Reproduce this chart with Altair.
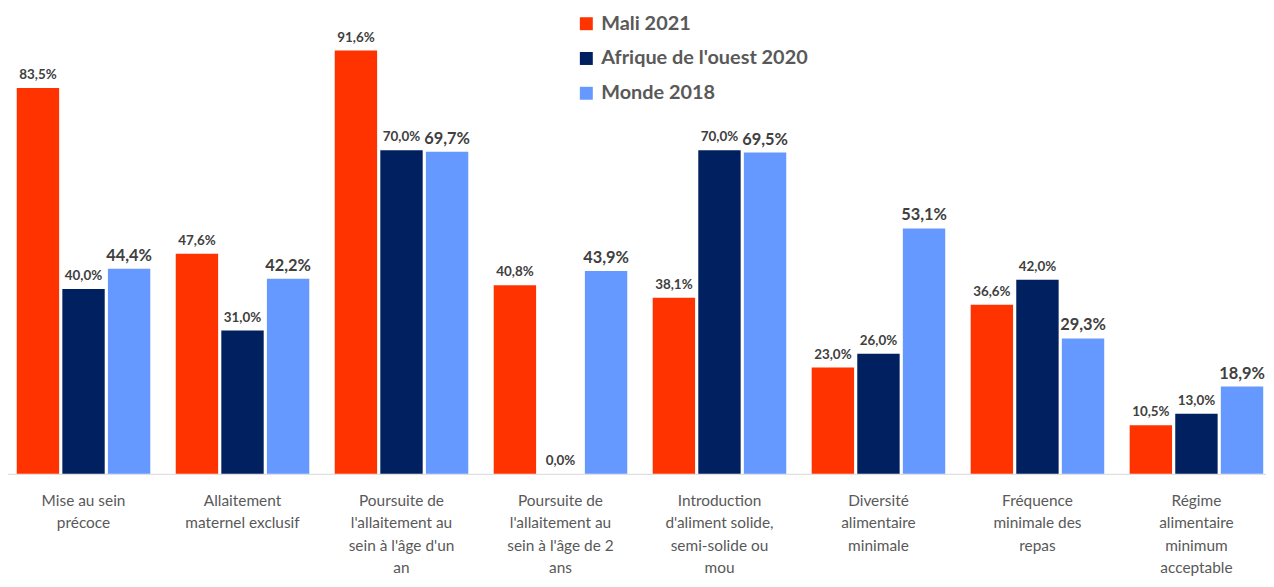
import altair as alt
import pandas as pd

categories = [
    "Mise au sein|précoce",
    "Allaitement|maternel exclusif",
    "Poursuite de|l'allaitement au|sein à l'âge d'un|an",
    "Poursuite de|l'allaitement au|sein à l'âge de 2|ans",
    "Introduction|d'aliment solide,|semi-solide ou|mou",
    "Diversité|alimentaire|minimale",
    "Fréquence|minimale des|repas",
    "Régime|alimentaire|minimum|acceptable",
]
series = ["Mali 2021", "Afrique de l'ouest 2020", "Monde 2018"]
mali = [83.5, 47.6, 91.6, 40.8, 38.1, 23.0, 36.6, 10.5]
afrique = [40.0, 31.0, 70.0, 0.0, 70.0, 26.0, 42.0, 13.0]
monde = [44.4, 42.2, 69.7, 43.9, 69.5, 53.1, 29.3, 18.9]
colors = ["#FF3300", "#002060", "#6699FF"]

rows = []
for s, vals in zip(series, [mali, afrique, monde]):
    for c, v in zip(categories, vals):
        rows.append({"cat": c, "serie": s, "value": v,
                     "label": f"{v:.1f}%".replace(".", ",")})
df = pd.DataFrame(rows)

FONT = "Lato"

x = alt.X("cat:N", sort=categories,
          scale=alt.Scale(range=[-4, 1276], paddingInner=0.16, paddingOuter=0.08),
          axis=alt.Axis(title=None, labelAngle=0, ticks=False,
                        domainColor="#d9d9d9", domainWidth=1,
                        labelExpr="split(datum.label, '|')",
                        labelFont=FONT, labelFontSize=15.5, labelColor="#595959",
                        labelLineHeight=22.5, labelPadding=27, labelLimit=0,
                        labelBaseline="middle"))
xo = alt.XOffset("serie:N", sort=series,
                 scale=alt.Scale(paddingInner=0.07, paddingOuter=0))
y = alt.Y("value:Q", scale=alt.Scale(domain=[0, 100.4]), axis=None)

base = alt.Chart(df).encode(x=x, xOffset=xo, y=y)

bars = base.mark_bar().encode(
    color=alt.Color("serie:N", sort=series,
                    scale=alt.Scale(domain=series, range=colors),
                    legend=alt.Legend(title=None, orient="none", legendX=572, legendY=4,
                                      symbolType="square", symbolSize=170,
                                      symbolStrokeWidth=0, labelFont=FONT,
                                      labelFontSize=20, labelFontWeight="bold",
                                      labelColor="#595959", rowPadding=15,
                                      labelOffset=5, labelLimit=0))
)

small = base.transform_filter(alt.datum.serie != "Monde 2018").mark_text(
    baseline="bottom", dy=-6, font=FONT, fontSize=13.5, fontWeight="bold", color="#404040"
).encode(text="label:N")

big = base.transform_filter(alt.datum.serie == "Monde 2018").mark_text(
    baseline="bottom", dy=-5, font=FONT, fontSize=16.5, fontWeight="bold", color="#404040"
).encode(text="label:N")

chart = alt.layer(bars, small, big).properties(
    width=1258, height=467, autosize="none",
    padding={"left": 0, "top": 0, "right": 8, "bottom": 102},
).configure_view(stroke=None)

chart.save("out.html", embed_options={"renderer": "svg", "actions": False})
